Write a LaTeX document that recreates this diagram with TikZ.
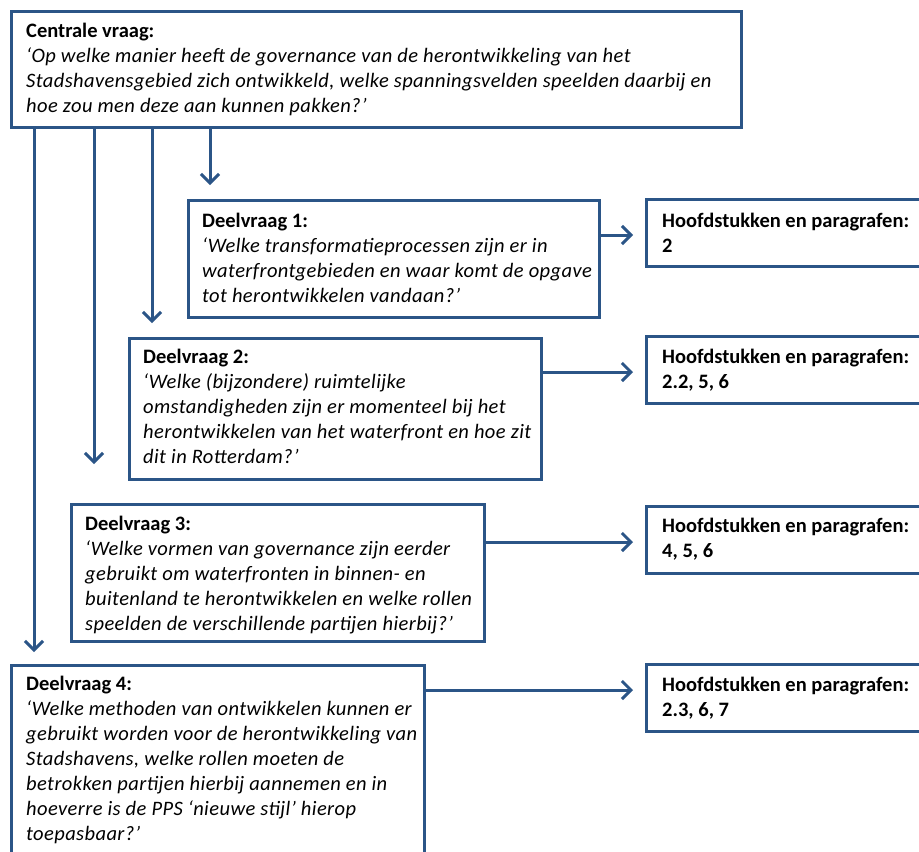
\documentclass[tikz,border=0pt]{standalone}
\usepackage{fontspec}
\setmainfont{Carlito}[ItalicFeatures={LetterSpace=2}]
\usetikzlibrary{arrows.meta}
\definecolor{frame}{HTML}{2B5587}
\newcommand{\txtsize}{\fontsize{20.5}{25}\selectfont}
\tikzset{
  box/.style={draw=frame, line width=3pt, fill=white, anchor=north west, inner sep=0pt},
  label/.style={anchor=north west, inner sep=0pt, align=left, font=\txtsize, text=black},
  arr/.style={draw=frame, line width=3pt, -{Straight Barb[length=9pt,width=18pt,line width=3pt]}}
}
\begin{document}
\begin{tikzpicture}[x=1pt,y=-1pt]
\clip (0,0) rectangle (919,852);
\fill[white] (0,0) rectangle (919,852);

% question boxes
\node[box, minimum width=730pt, minimum height=116pt] (cv) at (10,10) {};
\node[box, minimum width=411pt, minimum height=117pt] (dv1) at (187,199) {};
\node[box, minimum width=412pt, minimum height=141pt] (dv2) at (128,337) {};
\node[box, minimum width=413pt, minimum height=137pt] (dv3) at (70,503) {};
\node[box, minimum width=413pt, minimum height=220pt] (dv4) at (10,664) {};

% chapter boxes
\node[box, minimum width=320pt, minimum height=67pt] (h1) at (645,198) {};
\node[box, minimum width=320pt, minimum height=67pt] (h2) at (645,335) {};
\node[box, minimum width=320pt, minimum height=67pt] (h3) at (645,505) {};
\node[box, minimum width=320pt, minimum height=67pt] (h4) at (645,663) {};

% texts
\node[label] (cvt) at (26,19.5) {\strut\textbf{Centrale vraag:}\\
\textit{‘Op welke manier heeft de governance van de herontwikkeling van het}\\
\textit{Stadshavensgebied zich ontwikkeld, welke spanningsvelden speelden daarbij en}\\
\textit{hoe zou men deze aan kunnen pakken?’}};
\node[label] (dv1t) at (202,209.5) {\strut\textbf{Deelvraag 1:}\\
\textit{‘Welke transformatieprocessen zijn er in}\\
\textit{waterfrontgebieden en waar komt de opgave}\\
\textit{tot herontwikkelen vandaan?’}};
\node[label] (dv2t) at (143,345.5) {\strut\textbf{Deelvraag 2:}\\
\textit{‘Welke (bijzondere) ruimtelijke}\\
\textit{omstandigheden zijn er momenteel bij het}\\
\textit{herontwikkelen van het waterfront en hoe zit}\\
\textit{dit in Rotterdam?’}};
\node[label] (dv3t) at (85,512.5) {\strut\textbf{Deelvraag 3:}\\
\textit{‘Welke vormen van governance zijn eerder}\\
\textit{gebruikt om waterfronten in binnen- en}\\
\textit{buitenland te herontwikkelen en welke rollen}\\
\textit{speelden de verschillende partijen hierbij?’}};
\node[label] (dv4t) at (26,672.5) {\strut\textbf{Deelvraag 4:}\\
\textit{‘Welke methoden van ontwikkelen kunnen er}\\
\textit{gebruikt worden voor de herontwikkeling van}\\
\textit{Stadshavens, welke rollen moeten de}\\
\textit{betrokken partijen hierbij aannemen en in}\\
\textit{hoeverre is de PPS ‘nieuwe stijl’ hierop}\\
\textit{toepasbaar?’}};
\node[label] (h1t) at (662,209.5) {\strut\textbf{Hoofdstukken en paragrafen:}\\ \textbf{2}};
\node[label] (h2t) at (662,345.5) {\strut\textbf{Hoofdstukken en paragrafen:}\\ \textbf{2.2, 5, 6}};
\node[label] (h3t) at (662,514.5) {\strut\textbf{Hoofdstukken en paragrafen:}\\ \textbf{4, 5, 6}};
\node[label] (h4t) at (662,673.5) {\strut\textbf{Hoofdstukken en paragrafen:}\\ \textbf{2.3, 6, 7}};

% arrow end points
\coordinate (v1) at (210,185);
\coordinate (v2) at (152,323);
\coordinate (v3) at (94,464);
\coordinate (v4) at (34,652);
\coordinate (a1) at (633,235);
\coordinate (a2) at (633,372);
\coordinate (a3) at (633,542);
\coordinate (a4) at (633,690);

% central question to sub-questions
\draw[arr] (cv.south -| v1) -- (v1);
\draw[arr] (cv.south -| v2) -- (v2);
\draw[arr] (cv.south -| v3) -- (v3);
\draw[arr] (cv.south -| v4) -- (v4);

% sub-questions to chapters
\draw[arr] (dv1.east |- a1) -- (a1);
\draw[arr] (dv2.east |- a2) -- (a2);
\draw[arr] (dv3.east |- a3) -- (a3);
\draw[arr] (dv4.east |- a4) -- (a4);
\end{tikzpicture}
\end{document}
